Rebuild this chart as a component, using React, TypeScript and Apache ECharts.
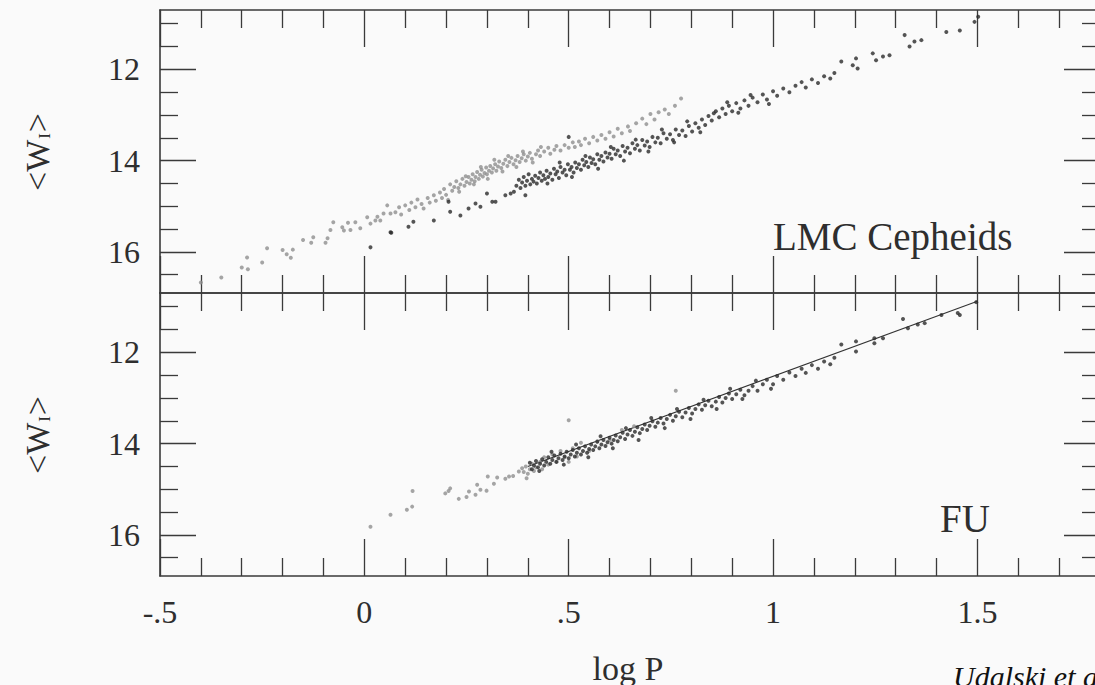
import React, { useEffect, useRef } from "react";
import * as echarts from "echarts";

// ---- tick definitions ----
const xMajorTicks = [-0.5, 0, 0.5, 1, 1.5];
const xTickLabels = ["-.5", "0", ".5", "1", "1.5"];
const xMinorTicks = [-0.4, -0.3, -0.2, -0.1, 0.1, 0.2, 0.3, 0.4, 0.6, 0.7, 0.8, 0.9, 1.1, 1.2, 1.3, 1.4, 1.6, 1.7];
const yMajorTicks = [12, 14, 16];
const yMinorTicks = [11, 11.5, 12.5, 13, 13.5, 14.5, 15, 15.5, 16.5];

// ---- top panel: LMC Cepheids, first overtone (grey) ----
const topFirstOvertone = [
  [-0.40, 16.67], [-0.35, 16.56], [-0.30, 16.34], [-0.287, 16.12], [-0.285, 16.38], [-0.25, 16.23], [-0.238, 15.92],
  [-0.20, 15.96], [-0.19, 16.05], [-0.18, 16.13], [-0.175, 15.95], [-0.15, 15.74], [-0.13, 15.80], [-0.125, 15.68],
  [-0.095, 15.80], [-0.09, 15.70], [-0.083, 15.52], [-0.076, 15.35], [-0.054, 15.46], [-0.05, 15.53], [-0.04, 15.36],
  [-0.034, 15.52], [-0.022, 15.35], [-0.01, 15.48], [0.007, 15.24], [0.015, 15.38], [0.027, 15.31], [0.032, 15.23],
  [0.039, 15.31], [0.047, 15.16], [0.056, 14.98], [0.064, 15.16], [0.076, 15.13],
  [0.085, 15.02], [0.09, 15.18], [0.10, 14.98], [0.11, 15.08], [0.115, 14.92], [0.125, 15.02], [0.13, 14.85],
  [0.14, 14.95], [0.145, 15.05], [0.155, 14.82], [0.16, 14.92], [0.17, 14.76], [0.175, 14.88], [0.185, 14.70],
  [0.19, 14.82], [0.195, 14.62], [0.20, 14.75], [0.205, 14.86],
  [0.21, 14.52], [0.215, 14.66], [0.22, 14.58], [0.225, 14.45], [0.23, 14.60], [0.235, 14.52], [0.24, 14.40],
  [0.245, 14.55], [0.25, 14.47], [0.255, 14.36], [0.258, 14.50], [0.262, 14.42], [0.265, 14.30], [0.27, 14.45],
  [0.272, 14.36], [0.276, 14.25], [0.28, 14.40], [0.283, 14.31], [0.287, 14.20], [0.29, 14.35], [0.294, 14.27],
  [0.298, 14.15], [0.30, 14.30], [0.305, 14.22], [0.308, 14.12], [0.312, 14.26], [0.315, 14.17], [0.32, 14.08],
  [0.323, 14.22], [0.327, 14.13], [0.33, 14.02], [0.335, 14.16], [0.34, 14.07], [0.345, 13.98], [0.35, 14.12],
  [0.355, 14.03], [0.36, 13.94], [0.365, 14.08], [0.37, 13.99], [0.375, 13.90], [0.38, 14.03], [0.385, 13.95],
  [0.39, 13.86], [0.395, 14.00], [0.40, 13.91], [0.405, 13.83], [0.41, 13.96], [0.42, 13.86], [0.425, 13.78],
  [0.43, 13.90], [0.44, 13.80], [0.45, 13.72], [0.455, 13.85], [0.465, 13.76], [0.47, 13.68],
  [0.48, 13.78], [0.49, 13.66], [0.50, 13.72], [0.51, 13.60], [0.515, 13.70], [0.525, 13.58], [0.53, 13.66],
  [0.54, 13.52], [0.55, 13.62], [0.56, 13.48], [0.57, 13.56], [0.58, 13.44], [0.59, 13.52], [0.60, 13.38],
  [0.61, 13.47], [0.62, 13.30], [0.63, 13.40], [0.645, 13.25], [0.65, 13.35], [0.665, 13.18], [0.68, 13.08],
  [0.69, 13.20], [0.70, 12.98], [0.71, 13.10], [0.72, 12.94], [0.735, 12.88], [0.745, 12.98], [0.76, 12.80],
  [0.775, 12.64],
  [0.232, 14.68], [0.248, 14.34], [0.268, 14.52], [0.285, 14.14], [0.302, 14.40], [0.318, 13.98], [0.338, 14.24],
  [0.352, 13.90], [0.372, 14.14], [0.388, 13.80], [0.412, 14.04], [0.432, 13.70],
];

// ---- top panel: LMC Cepheids, fundamental mode (dark) ----
const topFundamental = [
  [0.015, 15.90], [0.064, 15.57], [0.066, 15.58], [0.108, 15.45], [0.12, 15.34], [0.17, 15.31], [0.206, 14.90],
  [0.21, 15.12], [0.235, 15.20], [0.255, 15.05], [0.272, 14.94], [0.284, 15.01], [0.30, 14.72], [0.313, 14.90],
  [0.321, 14.90], [0.345, 14.76], [0.358, 14.72], [0.366, 14.68], [0.394, 14.76], [0.50, 13.48],
  [0.372, 14.55], [0.378, 14.42], [0.382, 14.60], [0.386, 14.48], [0.39, 14.36], [0.394, 14.55], [0.398, 14.44],
  [0.402, 14.30], [0.406, 14.52], [0.41, 14.40], [0.414, 14.46], [0.418, 14.33], [0.422, 14.50], [0.426, 14.38],
  [0.43, 14.26], [0.434, 14.44], [0.438, 14.32], [0.442, 14.40], [0.446, 14.22], [0.45, 14.36], [0.455, 14.28],
  [0.46, 14.42], [0.464, 14.18], [0.468, 14.30], [0.472, 14.24], [0.476, 14.38], [0.48, 14.14], [0.485, 14.26],
  [0.49, 14.20], [0.494, 14.32], [0.498, 14.08], [0.503, 14.20], [0.507, 14.14], [0.512, 14.26], [0.516, 14.04],
  [0.52, 14.16], [0.525, 14.08], [0.53, 14.20], [0.534, 13.98], [0.538, 14.10], [0.543, 14.03], [0.548, 14.14],
  [0.552, 13.93], [0.556, 14.05], [0.56, 13.97], [0.565, 14.08], [0.57, 13.86], [0.575, 13.98], [0.58, 13.90],
  [0.585, 14.02], [0.59, 13.82], [0.595, 13.93], [0.60, 13.85], [0.605, 13.96], [0.61, 13.74], [0.615, 13.86],
  [0.62, 13.78], [0.626, 13.90], [0.632, 13.68], [0.638, 13.80], [0.644, 13.72], [0.65, 13.84], [0.656, 13.62],
  [0.662, 13.74], [0.668, 13.66], [0.674, 13.78], [0.68, 13.55], [0.686, 13.67], [0.692, 13.58], [0.698, 13.70],
  [0.705, 13.48], [0.712, 13.60], [0.718, 13.50], [0.725, 13.62], [0.732, 13.40], [0.74, 13.52], [0.748, 13.42],
  [0.755, 13.55], [0.762, 13.32], [0.77, 13.44], [0.778, 13.34], [0.786, 13.46], [0.794, 13.24], [0.802, 13.36],
  [0.81, 13.18], [0.818, 13.28], [0.826, 13.10], [0.834, 13.22], [0.842, 13.02], [0.85, 13.12],
  [0.86, 12.92], [0.868, 13.05], [0.876, 12.86], [0.884, 12.98], [0.892, 12.80], [0.90, 12.92], [0.91, 12.74],
  [0.92, 12.86], [0.93, 12.68], [0.94, 12.80], [0.95, 12.62], [0.962, 12.72], [0.975, 12.55], [0.985, 12.66],
  [1.00, 12.48], [1.01, 12.58], [1.025, 12.42], [1.04, 12.50], [1.055, 12.36], [1.07, 12.28], [1.08, 12.40],
  [1.095, 12.22], [1.11, 12.30], [1.125, 12.15], [1.14, 12.20], [1.15, 12.08],
  [1.167, 11.83], [1.195, 11.91], [1.203, 11.76], [1.207, 11.98], [1.244, 11.65], [1.252, 11.80], [1.269, 11.72],
  [1.285, 11.69], [1.322, 11.25], [1.334, 11.50], [1.346, 11.39], [1.363, 11.36], [1.424, 11.18], [1.457, 11.15],
  [1.493, 10.96], [1.502, 10.85],
  [0.448, 14.50], [0.478, 14.04], [0.508, 14.36], [0.541, 13.90], [0.572, 14.18], [0.603, 13.70], [0.635, 14.00],
  [0.664, 13.54], [0.695, 13.80], [0.728, 13.32], [0.758, 13.60], [0.79, 13.14], [0.822, 13.38], [0.855, 12.96],
  [0.888, 12.72], [0.915, 12.95], [0.945, 12.56], [0.99, 12.76],
];

// ---- bottom panel: FU (first overtone converted, grey) ----
const bottomConverted = [
  [0.015, 15.82], [0.064, 15.56], [0.104, 15.45], [0.117, 15.38], [0.118, 15.04], [0.198, 15.09], [0.206, 15.04],
  [0.21, 14.98], [0.231, 15.21], [0.25, 15.17], [0.256, 15.05], [0.272, 15.12], [0.276, 14.90], [0.284, 15.01],
  [0.299, 15.03], [0.302, 14.72], [0.317, 14.88], [0.325, 14.74], [0.345, 14.77], [0.354, 14.72], [0.364, 14.71],
  [0.378, 14.61], [0.386, 14.54], [0.397, 14.76], [0.39, 14.62], [0.395, 14.50], [0.40, 14.66], [0.405, 14.56],
  [0.41, 14.44], [0.415, 14.60], [0.42, 14.52], [0.43, 14.40], [0.435, 14.56], [0.44, 14.30], [0.45, 14.46],
  [0.46, 14.24], [0.47, 14.40], [0.48, 14.16], [0.49, 14.30], [0.50, 14.40], [0.51, 14.10], [0.52, 14.28],
  [0.53, 13.98], [0.55, 14.16], [0.57, 13.95], [0.60, 13.92], [0.63, 13.70], [0.66, 13.62], [0.50, 13.49],
  [0.762, 12.84],
];

// ---- bottom panel: FU (fundamental, dark) ----
const bottomFundamental = [
  [0.405, 14.42], [0.41, 14.56], [0.415, 14.48], [0.42, 14.38], [0.425, 14.52], [0.43, 14.44], [0.435, 14.34],
  [0.44, 14.48], [0.445, 14.40], [0.45, 14.30], [0.455, 14.44], [0.46, 14.36], [0.465, 14.26], [0.47, 14.40],
  [0.475, 14.32], [0.48, 14.22], [0.485, 14.36], [0.49, 14.28], [0.495, 14.18], [0.50, 14.32], [0.505, 14.24],
  [0.51, 14.14], [0.515, 14.28], [0.52, 14.20], [0.525, 14.10], [0.53, 14.24], [0.535, 14.16], [0.54, 14.06],
  [0.545, 14.20], [0.55, 14.12], [0.555, 14.02], [0.56, 14.14], [0.565, 14.06], [0.57, 13.96], [0.575, 14.10],
  [0.58, 14.02], [0.585, 13.92], [0.59, 14.05], [0.595, 13.97], [0.60, 13.87], [0.605, 14.00], [0.61, 13.92],
  [0.615, 13.82], [0.62, 13.95], [0.626, 13.86], [0.632, 13.76], [0.638, 13.90], [0.644, 13.80], [0.65, 13.70],
  [0.656, 13.83], [0.662, 13.74], [0.668, 13.64], [0.674, 13.77], [0.68, 13.68], [0.686, 13.58], [0.692, 13.70],
  [0.698, 13.61], [0.705, 13.51], [0.712, 13.63], [0.718, 13.54], [0.725, 13.44], [0.732, 13.56], [0.74, 13.46],
  [0.748, 13.37], [0.755, 13.50], [0.762, 13.40], [0.77, 13.30], [0.778, 13.42], [0.786, 13.32], [0.794, 13.22],
  [0.802, 13.34], [0.81, 13.24], [0.818, 13.14], [0.826, 13.26], [0.834, 13.16], [0.842, 13.06], [0.85, 13.18],
  [0.86, 13.08], [0.868, 12.98], [0.876, 13.10], [0.884, 13.00], [0.892, 12.90], [0.90, 13.02], [0.91, 12.92],
  [0.92, 12.82], [0.93, 12.94], [0.94, 12.84], [0.95, 12.74], [0.962, 12.84], [0.975, 12.70], [0.985, 12.60],
  [1.00, 12.70], [1.01, 12.52], [1.025, 12.60], [1.04, 12.44], [1.055, 12.52], [1.07, 12.36], [1.08, 12.45],
  [1.095, 12.28], [1.11, 12.36], [1.125, 12.20], [1.14, 12.26], [1.15, 12.12],
  [1.167, 11.83], [1.203, 11.76], [1.203, 11.98], [1.248, 11.69], [1.248, 11.80], [1.269, 11.69], [1.318, 11.27],
  [1.33, 11.47], [1.354, 11.39], [1.371, 11.36], [1.412, 11.18], [1.452, 11.14], [1.457, 11.18], [1.497, 10.90],
  [0.428, 14.60], [0.458, 14.18], [0.488, 14.46], [0.518, 14.02], [0.548, 14.30], [0.578, 13.84], [0.608, 14.10],
  [0.64, 13.66], [0.671, 13.92], [0.702, 13.44], [0.735, 13.66], [0.765, 13.24], [0.798, 13.46], [0.83, 13.04],
  [0.862, 13.24], [0.895, 12.80], [0.925, 13.02], [0.958, 12.62], [0.995, 12.80],
];

// ---- fitted PL relation in bottom panel ----
const fitLine = [[0.4, 14.5], [1.5, 10.88]];

const SERIF = '"Liberation Serif", "DejaVu Serif", serif';
const AXIS_COLOR = "#3a3a3a";
const TEXT_COLOR = "#2e2e2e";

function buildXAxes(gridIndex: number, withLabels: boolean) {
  const base = { type: "value", gridIndex, min: -0.5, max: 1.8, splitLine: { show: false } };
  const tickStyle = { color: AXIS_COLOR, width: 1.3 };
  const line = { show: true, onZero: false, lineStyle: { color: AXIS_COLOR, width: 1.6 } };
  const noLine = { show: false, onZero: false };
  const labels = withLabels
    ? {
        show: true,
        customValues: xMajorTicks,
        margin: 20,
        fontFamily: SERIF,
        fontSize: 32,
        color: TEXT_COLOR,
        formatter: (v: number) => {
          const i = xMajorTicks.findIndex((t) => Math.abs(t - v) < 1e-6);
          return i >= 0 ? xTickLabels[i] : "";
        },
      }
    : { show: false };
  return [
    { ...base, position: "bottom", axisLine: line, axisTick: { show: true, inside: true, length: 37, customValues: xMajorTicks, lineStyle: tickStyle }, axisLabel: labels },
    { ...base, position: "bottom", axisLine: noLine, axisTick: { show: true, inside: true, length: 18, customValues: xMinorTicks, lineStyle: tickStyle }, axisLabel: { show: false } },
    { ...base, position: "top", axisLine: line, axisTick: { show: true, inside: true, length: 37, customValues: xMajorTicks, lineStyle: tickStyle }, axisLabel: { show: false } },
    { ...base, position: "top", axisLine: noLine, axisTick: { show: true, inside: true, length: 18, customValues: xMinorTicks, lineStyle: tickStyle }, axisLabel: { show: false } },
  ];
}

function buildYAxes(gridIndex: number) {
  const base = { type: "value", gridIndex, min: 10.7, max: 16.9, inverse: true, splitLine: { show: false } };
  const tickStyle = { color: AXIS_COLOR, width: 1.3 };
  const line = { show: true, onZero: false, lineStyle: { color: AXIS_COLOR, width: 1.6 } };
  const noLine = { show: false, onZero: false };
  return [
    {
      ...base, position: "left", axisLine: line,
      axisTick: { show: true, inside: true, length: 36, customValues: yMajorTicks, lineStyle: tickStyle },
      axisLabel: { show: true, customValues: yMajorTicks, margin: 20, fontFamily: SERIF, fontSize: 32, color: TEXT_COLOR, formatter: (v: number) => String(v) },
    },
    { ...base, position: "left", axisLine: noLine, axisTick: { show: true, inside: true, length: 18, customValues: yMinorTicks, lineStyle: tickStyle }, axisLabel: { show: false } },
    { ...base, position: "right", axisLine: line, axisTick: { show: true, inside: true, length: 36, customValues: yMajorTicks, lineStyle: tickStyle }, axisLabel: { show: false } },
    { ...base, position: "right", axisLine: noLine, axisTick: { show: true, inside: true, length: 18, customValues: yMinorTicks, lineStyle: tickStyle }, axisLabel: { show: false } },
  ];
}

function yLabel(cy: number) {
  return {
    type: "text",
    x: 37,
    y: cy,
    rotation: Math.PI / 2,
    style: {
      text: "{a|<W}{s|I}{a|>}",
      align: "center",
      verticalAlign: "middle",
      fill: TEXT_COLOR,
      rich: {
        a: { fontFamily: SERIF, fontSize: 34, lineHeight: 40, fill: TEXT_COLOR, verticalAlign: "middle" },
        s: { fontFamily: SERIF, fontSize: 17, lineHeight: 40, fill: TEXT_COLOR, verticalAlign: "bottom", padding: [0, 1, 4, 1] },
      },
    },
  };
}

const option = {
  animation: false,
  backgroundColor: "#fafafa",
  grid: [
    { left: 160, right: 10, top: 10, height: 283 },
    { left: 160, right: 10, top: 293, height: 283 },
  ],
  xAxis: [...buildXAxes(0, false), ...buildXAxes(1, true)],
  yAxis: [...buildYAxes(0), ...buildYAxes(1)],
  series: [
    {
      type: "scatter", xAxisIndex: 0, yAxisIndex: 0, data: topFirstOvertone,
      symbolSize: 4, itemStyle: { color: "#8e8e8e" },
    },
    {
      type: "scatter", xAxisIndex: 0, yAxisIndex: 0, data: topFundamental,
      symbolSize: 4, itemStyle: { color: "#2a2a2a" },
    },
    {
      type: "line", xAxisIndex: 4, yAxisIndex: 4, data: fitLine, showSymbol: false, symbol: "none",
      lineStyle: { color: "#333", width: 1.1 }, z: 1,
    },
    {
      type: "scatter", xAxisIndex: 4, yAxisIndex: 4, data: bottomConverted,
      symbolSize: 4, itemStyle: { color: "#8e8e8e" }, z: 2,
    },
    {
      type: "scatter", xAxisIndex: 4, yAxisIndex: 4, data: bottomFundamental,
      symbolSize: 4, itemStyle: { color: "#2a2a2a" }, z: 3,
    },
  ],
  graphic: [
    yLabel(152),
    yLabel(435),
    {
      type: "text", x: 773, y: 236,
      style: { text: "LMC Cepheids", fontFamily: SERIF, fontSize: 39, fill: TEXT_COLOR, align: "left", verticalAlign: "middle" },
    },
    {
      type: "text", x: 965, y: 518,
      style: { text: "FU", fontFamily: SERIF, fontSize: 39, fill: TEXT_COLOR, align: "center", verticalAlign: "middle" },
    },
    {
      type: "text", x: 628, y: 668,
      style: { text: "log P", fontFamily: SERIF, fontSize: 34, fill: TEXT_COLOR, align: "center", verticalAlign: "middle" },
    },
    {
      type: "text", x: 953, y: 676,
      style: { text: "Udalski et al.", fontFamily: SERIF, fontSize: 30, fontStyle: "italic", fill: "#111", align: "left", verticalAlign: "middle" },
    },
  ],
};

export default function App() {
  const ref = useRef<HTMLDivElement>(null);
  useEffect(() => {
    if (!ref.current) return;
    const chart = echarts.init(ref.current, null, { renderer: "svg" });
    chart.setOption(option as any);
    return () => chart.dispose();
  }, []);
  return (
    <div style={{ position: "fixed", left: 0, top: 0, width: 1095, height: 685, overflow: "hidden", background: "#fafafa" }}>
      <div ref={ref} style={{ width: 1110, height: 685 }} />
    </div>
  );
}
